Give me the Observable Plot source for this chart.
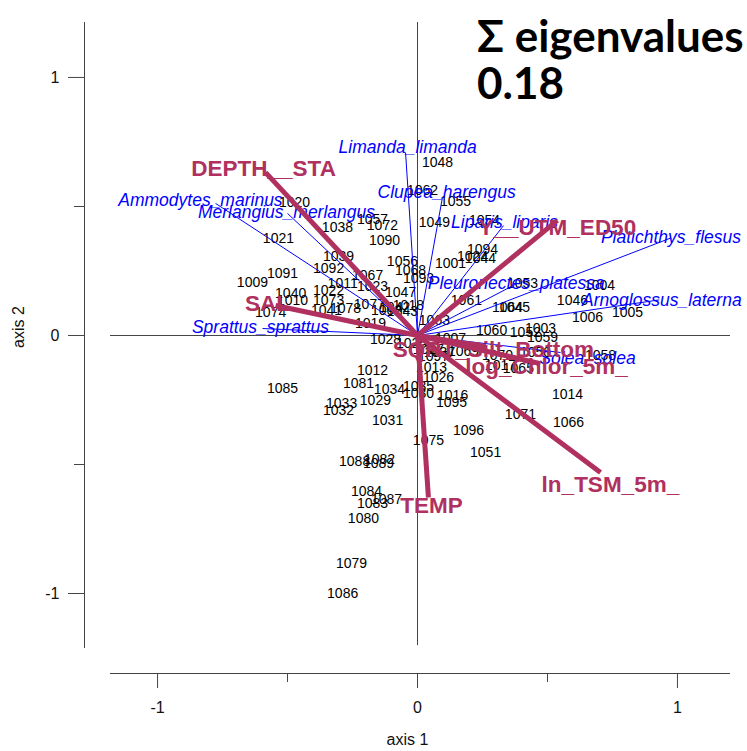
<!DOCTYPE html>
<html>
<head>
<meta charset="utf-8">
<script src="https://cdn.jsdelivr.net/npm/d3@7"></script>
<script src="https://cdn.jsdelivr.net/npm/@observablehq/plot@0.6"></script>
<style>
  html, body { margin: 0; padding: 0; background: #fff; overflow: hidden; }
  #wrap { position: relative; width: 747px; height: 751px; overflow: hidden; }
  #title { position: absolute; left: 477px; top: 12px; font-family: Lato, "Open Sans", sans-serif; font-weight: 700; font-size: 44px; line-height: 47px; color: #000; white-space: nowrap; }
</style>
</head>
<body>
<div id="wrap"><div id="chart"></div><div id="title"></div></div>
<script>
// ---- Data ----
const titleLines = ["Σ eigenvalues", "0.18"];
const axisTitleX = "axis 1";
const axisTitleY = "axis 2";
const ticksMajor = [-1, 0, 1];
const ticksMinor = [-0.5, 0.5];
// plot limits (as in the reference)
const xLim = [-1.181, 1.204];
const yLim = [-1.213, 1.213];
const xAxisPos = -1.281;   // left axis placement
const yAxisPos = -1.310;   // bottom axis placement

const siteNames = ["1020","1038","1057","1072","1021","1090","1039","1056","1091","1092","1067","1068","1093","1009","1011","1023","1022","1047","1040","1010","1073","1074","1041","1078","1077","1002","1018","1043","1042","1019","1028","1063","1061","1007","1060","1003","1052","1059","1053","1004","1064","1045","1046","1006","1005","1001","1094","1024","1044","1048","1062","1055","1049","1054","1012","1081","1034","1035","1030","1085","1033","1032","1029","1016","1095","1031","1096","1075","1051","1013","1026","1014","1071","1066","1065","1070","1069","1017","1058","1050","1088","1082","1089","1084","1087","1083","1080","1079","1086","1025","1027","1037","1097"];
const siteX = [-0.473,-0.308,-0.173,-0.135,-0.535,-0.127,-0.304,-0.058,-0.519,-0.342,-0.192,-0.027,0.004,-0.635,-0.288,-0.173,-0.342,-0.065,-0.488,-0.481,-0.342,-0.565,-0.350,-0.277,-0.185,-0.119,-0.035,-0.058,-0.088,-0.181,-0.123,0.065,0.188,0.127,0.285,0.473,0.415,0.481,0.404,0.700,0.346,0.373,0.596,0.654,0.808,0.127,0.250,0.212,0.242,0.077,0.019,0.146,0.065,0.258,-0.173,-0.227,-0.108,0.004,0.004,-0.519,-0.292,-0.304,-0.162,0.135,0.131,-0.115,0.196,0.042,0.262,0.054,0.081,0.577,0.396,0.581,0.388,0.308,0.177,0.319,0.704,0.454,-0.242,-0.146,-0.150,-0.196,-0.119,-0.173,-0.208,-0.254,-0.288,-0.023,0.042,0.085,0.062];
const siteY = [0.516,0.419,0.450,0.426,0.376,0.368,0.306,0.287,0.240,0.260,0.233,0.252,0.221,0.205,0.202,0.190,0.174,0.167,0.163,0.136,0.136,0.089,0.097,0.105,0.120,0.097,0.116,0.093,0.109,0.047,-0.016,0.058,0.136,-0.012,0.019,0.027,0.012,-0.008,0.202,0.194,0.109,0.109,0.136,0.070,0.089,0.279,0.333,0.306,0.298,0.671,0.562,0.519,0.438,0.446,-0.136,-0.186,-0.209,-0.198,-0.225,-0.205,-0.264,-0.291,-0.252,-0.233,-0.260,-0.329,-0.368,-0.407,-0.453,-0.124,-0.163,-0.229,-0.306,-0.337,-0.128,-0.078,-0.062,-0.116,-0.078,-0.066,-0.488,-0.481,-0.496,-0.605,-0.636,-0.651,-0.709,-0.884,-1.000,-0.031,-0.054,-0.066,-0.081];

const speciesNames = ["Ammodytes_marinus","Merlangius_merlangus","Limanda_limanda","Clupea_harengus","Liparis_liparis","Platichthys_flesus","Pleuronectes_platessa","Arnoglossus_laterna","Sprattus_sprattus","Solea_solea"];
const speciesTipX = [-0.777,-0.500,-0.046,0.096,0.331,0.975,0.380,0.930,-0.596,0.550];
const speciesTipY = [0.512,0.473,0.709,0.535,0.426,0.378,0.200,0.138,0.027,-0.066];
const speciesLabelX = [-0.835,-0.504,-0.038,0.112,0.335,0.975,0.380,0.940,-0.604,0.654];
const speciesLabelY = [0.523,0.477,0.729,0.554,0.438,0.382,0.202,0.136,0.031,-0.089];

const envNames = ["DEPTH__STA","Y__UTM_ED50","SAL","SQRT_Silt_Bottom","log_Chlor_5m_","ln_TSM_5m_","TEMP"];
const envTipX = [-0.585,0.538,-0.546,0.262,0.473,0.704,0.042];
const envTipY = [0.632,0.446,0.116,-0.043,-0.109,-0.531,-0.628];
const envLabelX = [-0.592,0.538,-0.577,0.292,0.496,0.742,0.054];
const envLabelY = [0.647,0.419,0.124,-0.054,-0.120,-0.578,-0.659];

// ---- Build tables ----
const sites = siteNames.map((n, i) => ({name: n, x: siteX[i], y: siteY[i]}));
const species = speciesNames.map((n, i) => ({name: n, tx: speciesTipX[i], ty: speciesTipY[i], lx: speciesLabelX[i], ly: speciesLabelY[i]}));
const env = envNames.map((n, i) => ({name: n, tx: envTipX[i], ty: envTipY[i], lx: envLabelX[i], ly: envLabelY[i]}));

const axisColor = "#444";
const maroon = "#B03060";
const fmt = d => String(d);

const chart = Plot.plot({
  width: 747,
  height: 751,
  marginLeft: 84,
  marginRight: 17,
  marginTop: 22,
  marginBottom: 78,
  x: {domain: [xAxisPos, xLim[1]]},
  y: {domain: [yAxisPos, yLim[1]]},
  style: {fontFamily: "'Liberation Sans', Arial, sans-serif", background: "white", overflow: "visible"},
  marks: [
    // zero lines
    Plot.ruleY([0], {x1: xLim[0], x2: xLim[1], stroke: axisColor, strokeWidth: 1}),
    Plot.ruleX([0], {y1: -1.202, y2: yLim[1], stroke: axisColor, strokeWidth: 1}),
    // axis lines
    Plot.ruleX([xAxisPos], {y1: yLim[0], y2: yLim[1], stroke: axisColor, strokeWidth: 1}),
    Plot.ruleY([yAxisPos], {x1: xLim[0], x2: xLim[1], stroke: axisColor, strokeWidth: 1}),
    // ticks
    Plot.axisY(ticksMajor, {anchor: "left", tickSize: 16, tickPadding: 9, tickFormat: fmt, fontSize: 16, stroke: axisColor, fill: "#111", label: null}),
    Plot.axisY(ticksMinor, {anchor: "left", tickSize: 10, tickFormat: () => "", stroke: axisColor, label: null}),
    Plot.axisX(ticksMajor, {anchor: "bottom", tickSize: 15, tickPadding: 13, tickFormat: fmt, fontSize: 16, stroke: axisColor, fill: "#111", label: null}),
    Plot.axisX(ticksMinor, {anchor: "bottom", tickSize: 9, tickFormat: () => "", stroke: axisColor, label: null}),
    Plot.text([axisTitleY], {frameAnchor: "left", dx: -66, rotate: -90, fontSize: 16, fill: "#111"}),
    Plot.text([axisTitleX], {frameAnchor: "bottom", dy: 71, fontSize: 16, fill: "#111"}),
    // sites
    Plot.text(sites, {x: "x", y: "y", text: "name", fontSize: 14, fill: "#000"}),
    // species arrows
    Plot.link(species, {x1: () => 0, y1: () => 0, x2: "tx", y2: "ty", stroke: "#0000FF", strokeWidth: 1}),
    Plot.text(species, {x: "lx", y: "ly", text: "name", fontSize: 17.5, fontStyle: "italic", fill: "#0000FF"}),
    // environmental arrows
    Plot.link(env, {x1: () => 0, y1: () => 0, x2: "tx", y2: "ty", stroke: maroon, strokeWidth: 5}),
    Plot.text(env, {x: "lx", y: "ly", text: "name", fontSize: 22.5, fontWeight: "bold", fill: maroon})
  ]
});

document.getElementById("chart").appendChild(chart);
document.getElementById("title").innerHTML = titleLines.join("<br>");
</script>
</body>
</html>
